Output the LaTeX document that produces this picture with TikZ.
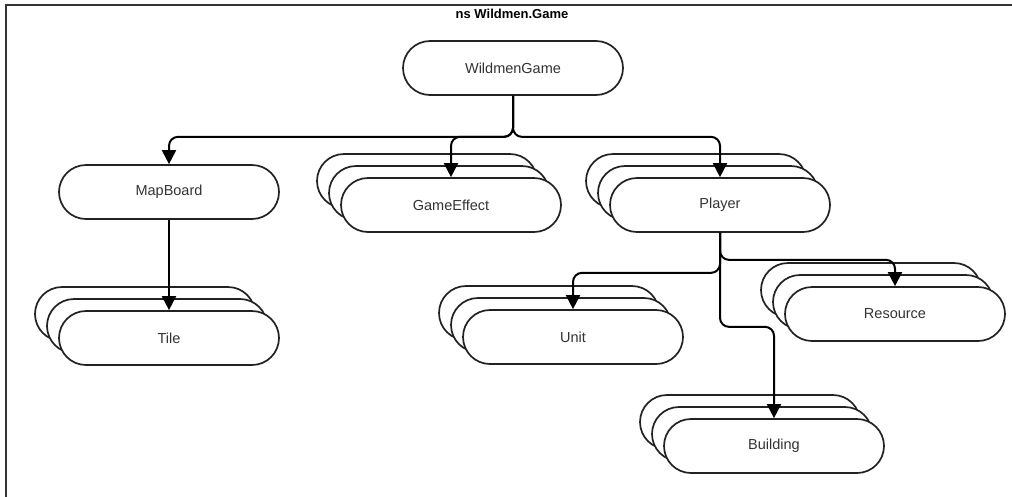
\documentclass[tikz,border=0pt]{standalone}
\usepackage{fontspec}
\setmainfont{Liberation Sans}
\usetikzlibrary{arrows.meta,shadows}
\definecolor{edgegray}{HTML}{222222}
\definecolor{txtgray}{HTML}{333333}
\tikzset{
  box/.style={draw=edgegray, line width=1.7pt, fill=white, rounded corners=27pt,
    minimum width=220pt, minimum height=54pt, inner sep=0pt,
    text=txtgray, font=\fontsize{14.5}{17}\selectfont},
  stack/.style={box,
    general shadow={shadow xshift=-24pt, shadow yshift=24pt, draw=edgegray, line width=1.7pt, fill=white},
    general shadow={shadow xshift=-12pt, shadow yshift=12pt, draw=edgegray, line width=1.7pt, fill=white}},
  arr/.style={draw=black, line width=2pt, rounded corners=9pt,
    -{Triangle[width=14pt,length=14pt]}},
}
\begin{document}
\begin{tikzpicture}[x=1pt,y=-1pt]
\useasboundingbox (0,0) rectangle (1012,496);
\begin{scope}
\clip (0,0) rectangle (1012,496);
\draw[draw=txtgray, line width=2pt] (6,530) -- (6,5) -- (1040,5);
\end{scope}
\node[font=\bfseries\fontsize{13}{15}\selectfont, text=black] (title) at (512,14) {ns Wildmen.Game};

\node[box] (wg) at (513,68) {WildmenGame};
\node[box] (mapboard) at (169,192) {MapBoard};
\node[stack] (ge) at (451,205) {GameEffect};
\node[stack] (player) at (720,205) {Player};
\node[stack] (tile) at (169,338) {Tile};
\node[stack] (unit) at (573,337) {Unit};
\node[stack] (resource) at (895,314) {Resource};
\node[stack] (building) at (774,446) {Building};

\draw[arr] (wg.south) -- ++(0,41) -| (mapboard.north);
\draw[arr] (wg.south) -- ++(0,41) -| (ge.north);
\draw[arr] (wg.south) -- ++(0,41) -| (player.north);
\draw[arr] (mapboard.south) -- (tile.north);
\draw[arr] (player.south) -- ++(0,40) -| (unit.north);
\draw[arr] (player.south) -- ++(0,27) -| (resource.north);
\draw[arr] (player.south) -- ++(0,94) -| (building.north);
\end{tikzpicture}
\end{document}
